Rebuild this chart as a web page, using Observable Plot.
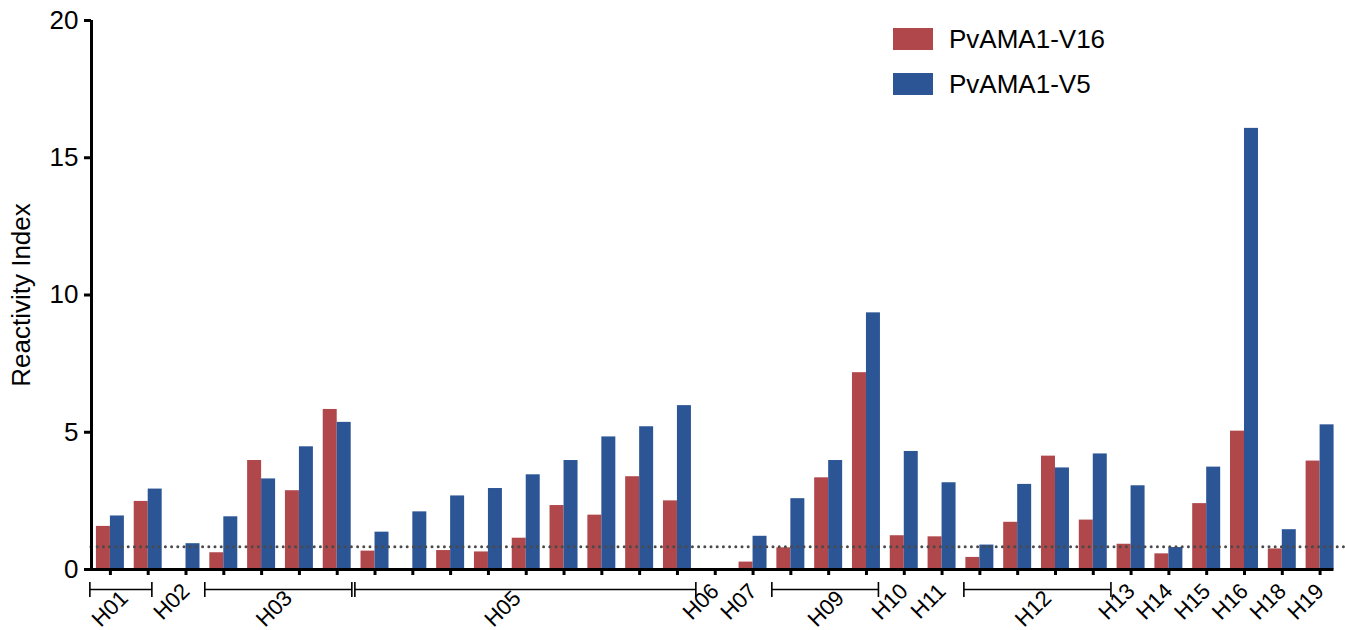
<!DOCTYPE html>
<html>
<head>
<meta charset="utf-8">
<script src="https://cdn.jsdelivr.net/npm/d3@7"></script>
<script src="https://cdn.jsdelivr.net/npm/@observablehq/plot@0.6"></script>
<style>
  html, body { margin: 0; padding: 0; background: #fff; }
  #wrap { position: relative; width: 1345px; height: 630px; font-family: "Liberation Sans", Arial, sans-serif; }
  #legend { position: absolute; left: 893px; top: 28px; }
  .item { display: flex; align-items: center; height: 22px; margin-bottom: 23px; }
  .sw { width: 40px; height: 22px; margin-right: 16px; }
  .lab { font-size: 26px; color: #000; }
</style>
</head>
<body>
<div id="wrap"><div id="legend"></div></div>
<script>
// Series (one value per bar position, left to right)
const seriesNames = ["PvAMA1-V16", "PvAMA1-V5"];
const seriesColors = ["#b0474a", "#2c5596"];
const v16 = [1.57, 2.48, 0, 0.61, 3.97, 2.87, 5.83, 0.67, 0, 0.69, 0.64, 1.14, 2.33, 1.98, 3.38, 2.50, 0, 0.27, 0.79, 3.34, 7.17, 1.23, 1.19, 0.44, 1.72, 4.13, 1.80, 0.92, 0.57, 2.40, 5.04, 0.75, 3.95];
const v5  = [1.95, 2.93, 0.94, 1.92, 3.30, 4.47, 5.36, 1.36, 2.10, 2.68, 2.95, 3.45, 3.97, 4.83, 5.20, 5.97, 0, 1.21, 2.58, 3.97, 9.35, 4.30, 3.16, 0.89, 3.10, 3.70, 4.21, 3.05, 0.80, 3.73, 16.07, 1.45, 5.27];
const cutoff = 0.83;

// Single-position labels
const singleLabels = ["H02", "H06", "H07", "H10", "H11", "H13", "H14", "H15", "H16", "H18", "H19"];
const singlePos    = [2, 16, 17, 21, 22, 27, 28, 29, 30, 31, 32];

// Grouped labels with brackets
const groupLabels = ["H01", "H03", "H05", "H09", "H12"];
const groupLabelPos = [0.37, 4.71, 10.76, 19.31, 24.79];
const groupStart = [-0.53, 2.51, 6.48, 17.51, 22.59];
const groupEnd   = [1.11, 6.40, 15.50, 20.33, 26.48];

const yTicks = [0, 5, 10, 15, 20];
const yLabel = "Reactivity Index";

const n = v16.length;
const positions = d3.range(n);
const barW = 0.37;

const bars = [];
positions.forEach(i => {
  bars.push({i, s: 0, x1: i - barW, x2: i, v: v16[i]});
  bars.push({i, s: 1, x1: i, x2: i + barW, v: v5[i]});
});
const singles = singleLabels.map((l, k) => ({label: l, pos: singlePos[k]}));
const groups = groupLabels.map((l, k) => ({label: l, pos: groupLabelPos[k], start: groupStart[k], end: groupEnd[k]}));
const caps = groups.flatMap(g => [{x: g.start}, {x: g.end}]);

const plot = Plot.plot({
  width: 1345,
  height: 630,
  marginLeft: 91,
  marginRight: 6.5,
  marginTop: 20,
  marginBottom: 61,
  style: {fontFamily: "'Liberation Sans', Arial, sans-serif", background: "#fff", overflow: "visible"},
  x: {domain: [-0.5, n - 0.5]},
  y: {domain: [0, 20]},
  marks: [
    Plot.rectY(bars.filter(d => d.v > 0), {x1: "x1", x2: "x2", y: "v", fill: d => seriesColors[d.s]}),
    Plot.ruleY([cutoff], {stroke: "#4a4a4a", strokeWidth: 3, strokeDasharray: "0,6.2", strokeLinecap: "round", insetRight: -6}),
    Plot.ruleY([0], {stroke: "#000", strokeWidth: 3, insetLeft: -3, insetRight: 5}),
    Plot.ruleX([-0.5], {y1: 0, y2: 20, stroke: "#000", strokeWidth: 3}),
    Plot.axisX({ticks: positions, tickSize: 6, tickFormat: () => "", strokeWidth: 3, label: null}),
    Plot.axisY({ticks: yTicks, tickSize: 7, tickPadding: 6, fontSize: 26, strokeWidth: 3, label: null}),
    Plot.text([yLabel], {frameAnchor: "left", textAnchor: "middle", lineAnchor: "middle", rotate: -90, dx: -70, fontSize: 26, fill: "#000"}),
    // brackets
    Plot.ruleY(groups, {x1: "start", x2: "end", y: () => 0, dy: 20, stroke: "#000", strokeWidth: 1.5}),
    Plot.rect(caps, {x1: "x", x2: "x", y1: () => 0, y2: () => 0, insetTop: 13, insetBottom: -28, insetLeft: -0.8, insetRight: -0.8, fill: "#000"}),
    // labels
    Plot.text(singles, {x: "pos", y: () => 0, text: "label", rotate: -45, textAnchor: "end", lineAnchor: "bottom", dx: 5, dy: 23, fontSize: 22, fill: "#000"}),
    Plot.text(groups, {x: "pos", y: () => 0, text: "label", rotate: -45, textAnchor: "end", lineAnchor: "bottom", dx: 5, dy: 30, fontSize: 22, fill: "#000"})
  ]
});
document.getElementById("wrap").prepend(plot);

const legend = document.getElementById("legend");
seriesNames.forEach((name, k) => {
  const item = document.createElement("div");
  item.className = "item";
  const sw = document.createElement("div");
  sw.className = "sw";
  sw.style.background = seriesColors[k];
  const lab = document.createElement("div");
  lab.className = "lab";
  lab.textContent = name;
  item.append(sw, lab);
  legend.append(item);
});
</script>
</body>
</html>
